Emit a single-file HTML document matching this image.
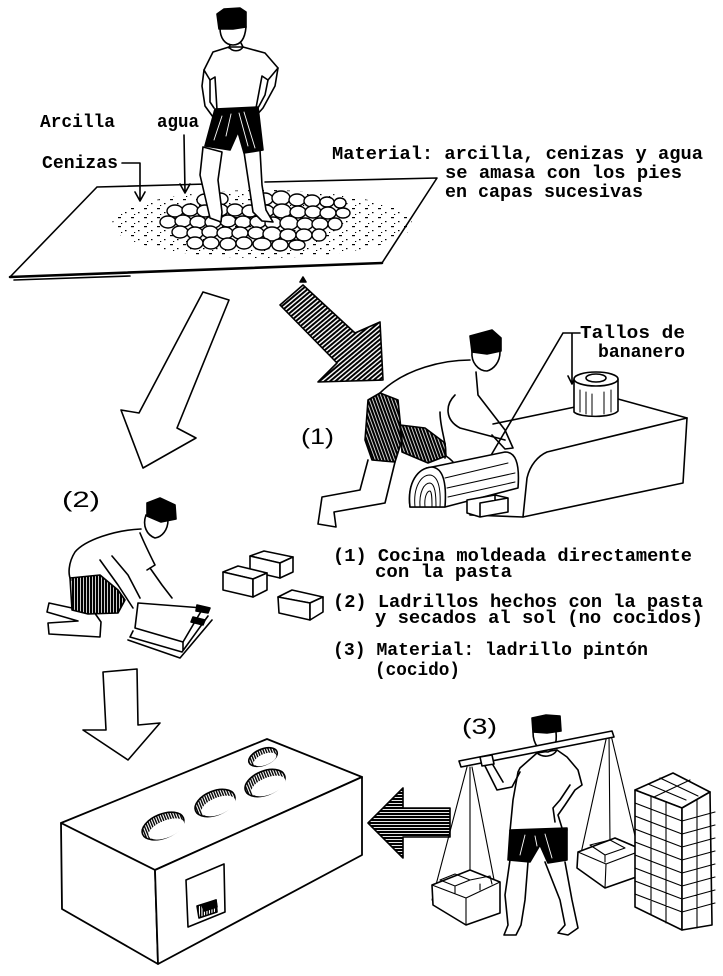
<!DOCTYPE html>
<html><head><meta charset="utf-8"><style>
html,body{margin:0;padding:0;background:#fff}
svg{display:block}
.t{font-family:"Liberation Mono",monospace;font-weight:bold;font-size:18px;fill:#000;stroke:none}
.h{font-family:"Liberation Sans",sans-serif;font-size:22px;fill:#000;stroke:none}
</style></head><body>
<svg width="723" height="976" viewBox="0 0 723 976" xmlns="http://www.w3.org/2000/svg">
<defs>
<pattern id="dots" width="13" height="9" patternUnits="userSpaceOnUse"><rect x="1" y="1" width="3" height="1.2" fill="#000"/><rect x="8" y="5" width="1.5" height="1.2" fill="#000"/><rect x="4" y="7" width="1.2" height="1" fill="#000"/></pattern>
<pattern id="diag" width="3.4" height="3.4" patternUnits="userSpaceOnUse" patternTransform="rotate(-40)"><rect width="3.4" height="2" fill="#000"/></pattern>
<pattern id="diag2" width="3" height="3" patternUnits="userSpaceOnUse" patternTransform="rotate(70)"><rect width="3" height="2.2" fill="#000"/></pattern>
<pattern id="hor" width="4" height="3" patternUnits="userSpaceOnUse"><rect width="4" height="2.1" fill="#000"/></pattern>
<pattern id="vert" width="3" height="4" patternUnits="userSpaceOnUse"><rect width="2.2" height="4" fill="#000"/></pattern>
<pattern id="vh" width="2.5" height="4" patternUnits="userSpaceOnUse"><rect width="1.4" height="4" fill="#000"/></pattern>
</defs>

<g fill="none" stroke="#000" stroke-width="1.6" stroke-linejoin="round" stroke-linecap="round">

<!-- ===== Figure top: kneading ===== -->
<path d="M97,187 L207,184 M265,182 L437,178 L382,263 L10,277 L97,187" fill="none"/>
<path d="M10,277 L382,263" stroke-width="2.6"/>
<path d="M14,280 L130,276" stroke-width="1.6"/>
<ellipse cx="262" cy="224" rx="150" ry="34" fill="url(#dots)" stroke="none"/>
<g fill="#fff" stroke-width="1.4">
<ellipse cx="205" cy="200" rx="8" ry="6"/><ellipse cx="220" cy="199" rx="8" ry="6"/><ellipse cx="265" cy="199" rx="8" ry="6"/><ellipse cx="281" cy="198" rx="9" ry="7"/><ellipse cx="297" cy="200" rx="8" ry="6"/><ellipse cx="312" cy="201" rx="8" ry="6"/><ellipse cx="327" cy="202" rx="7" ry="5"/><ellipse cx="340" cy="203" rx="6" ry="5"/>
<ellipse cx="175" cy="211" rx="8" ry="6"/><ellipse cx="190" cy="210" rx="8" ry="6"/><ellipse cx="205" cy="211" rx="8" ry="6"/><ellipse cx="220" cy="210" rx="8" ry="6"/><ellipse cx="235" cy="210" rx="8" ry="6"/><ellipse cx="250" cy="211" rx="8" ry="6"/><ellipse cx="266" cy="211" rx="8" ry="6"/><ellipse cx="282" cy="211" rx="9" ry="7"/><ellipse cx="298" cy="212" rx="8" ry="6"/><ellipse cx="313" cy="212" rx="8" ry="6"/><ellipse cx="328" cy="213" rx="8" ry="6"/><ellipse cx="343" cy="213" rx="7" ry="5"/>
<ellipse cx="168" cy="222" rx="8" ry="6"/><ellipse cx="183" cy="221" rx="8" ry="6"/><ellipse cx="198" cy="222" rx="8" ry="6"/><ellipse cx="213" cy="222" rx="8" ry="6"/><ellipse cx="228" cy="221" rx="8" ry="6"/><ellipse cx="243" cy="222" rx="8" ry="6"/><ellipse cx="258" cy="222" rx="8" ry="6"/><ellipse cx="273" cy="223" rx="8" ry="6"/><ellipse cx="289" cy="223" rx="9" ry="7"/><ellipse cx="305" cy="224" rx="8" ry="6"/><ellipse cx="320" cy="224" rx="8" ry="6"/><ellipse cx="335" cy="224" rx="7" ry="6"/>
<ellipse cx="180" cy="232" rx="8" ry="6"/><ellipse cx="195" cy="233" rx="8" ry="6"/><ellipse cx="210" cy="232" rx="8" ry="6"/><ellipse cx="225" cy="233" rx="8" ry="6"/><ellipse cx="240" cy="233" rx="8" ry="6"/><ellipse cx="256" cy="233" rx="8" ry="6"/><ellipse cx="272" cy="234" rx="9" ry="7"/><ellipse cx="288" cy="235" rx="8" ry="6"/><ellipse cx="304" cy="235" rx="8" ry="6"/><ellipse cx="319" cy="235" rx="7" ry="6"/>
<ellipse cx="195" cy="243" rx="8" ry="6"/><ellipse cx="211" cy="243" rx="8" ry="6"/><ellipse cx="228" cy="244" rx="8" ry="6"/><ellipse cx="244" cy="243" rx="8" ry="6"/><ellipse cx="262" cy="244" rx="9" ry="6"/><ellipse cx="280" cy="245" rx="8" ry="6"/><ellipse cx="297" cy="245" rx="8" ry="5"/>
</g>
<!-- person 1 -->
<path d="M203,147 L200,175 L207,205 L210,218 L221,222 L222,212 L218,180 L222,152 Z" fill="#fff"/>
<path d="M244,152 L249,185 L253,212 L262,221 L273,222 L266,210 L262,185 L260,150 Z" fill="#fff"/>
<path d="M229,47 L213,52 L204,70 L210,80 L215,77 L217,110 L256,108 L262,76 L268,80 L278,68 L265,53 L243,47 Z" fill="#fff"/>
<path d="M229,47 C232,52 240,52 243,47"/>
<path d="M204,70 L202,86 L205,106 L213,117 M210,80 L210,102 L214,108 M278,68 L275,86 L263,108 L255,117 M268,80 L265,95 L258,108"/>
<path d="M215,109 L258,107 L263,150 L244,153 L238,132 L230,150 L205,146 Z" fill="#000"/>
<path d="M222,116 L214,140 M231,114 L226,136 M239,113 L248,146 M244,112 L255,148" stroke="#fff" stroke-width="0.9"/>
<path d="M220,28 C220,38 225,45 233,45 C241,45 245,38 246,27 M230,45 L229,48 M241,43 L243,47" fill="#fff"/>
<path d="M217,14 L224,9 L240,8 L246,12 L246,27 L233,29 L219,29 Z" fill="#000"/>
<!-- label leaders -->
<path d="M122,163 L140,163 L140,200 M135,192 L140,201 L145,192"/>
<path d="M184,135 L185,192 M180,184 L185,193 L190,184"/>
<path d="M300,282 L303,277 L306,282 Z" fill="#000"/>

<!-- ===== Arrows ===== -->
<path d="M203,292 L229,300 L177,428 L196,438 L143,468 L121,410 L139,413 Z" fill="#fff"/>
<path d="M280,305 L303,285 L355,333 L380,322 L383,380 L318,382 L337,363 Z" fill="url(#diag)"/>

<!-- ===== Figure (1): cooking stove molded ===== -->
<path d="M547,452 L687,418 L683,483 L523,517 L527,478 C530,465 538,456 547,452 Z" fill="#fff"/>
<path d="M493,424 L575,407 M618,399 L687,418 M470,515 L523,517"/>
<path d="M563,333 L580,333 M563,333 L490,457 M572,333 L572,383 M568,376 L572,384 L576,376"/>
<!-- can -->
<path d="M574,379 L574,412 C580,418 612,418 618,411 L618,379" fill="#fff"/>
<ellipse cx="596" cy="379" rx="22" ry="7" fill="#fff"/>
<ellipse cx="596" cy="378" rx="10" ry="4"/>
<path d="M580,390 L580,412 M586,392 L586,414 M592,394 L592,415 M604,392 L604,414 M611,390 L611,412" stroke-width="1"/>
<!-- person (1) -->
<path d="M470,360 C445,360 405,368 380,393"/>
<path d="M476,372 L478,395 L505,430 L513,448 L505,449 L492,435 M455,395 C445,405 445,420 460,428 L505,440 M440,412 C440,430 448,445 445,458"/>
<path d="M368,460 L360,490 L322,497 L318,524 L336,527 L334,512 L385,503 L395,462"/>
<path d="M446,456 C455,462 460,470 458,478"/>
<path d="M380,393 L368,400 L365,440 L372,460 L395,462 L402,440 L398,400 Z" fill="url(#diag2)"/>
<path d="M400,425 L425,428 L445,443 L446,456 L428,463 L402,452 Z" fill="url(#diag2)"/>
<path d="M472,352 C471,362 478,371 487,371 C494,369 500,362 500,352" fill="#fff"/>
<path d="M470,336 L492,330 L501,338 L501,351 L487,354 L472,352 Z" fill="#000"/>
<!-- log -->
<path d="M410,507 C407,482 418,468 432,467 L505,452 C515,452 520,462 518,488 L445,507 Z" fill="#fff"/>
<path d="M410,507 C407,482 418,468 432,467 C442,468 447,480 445,507 Z" fill="#fff"/>
<path d="M415,507 C413,487 421,475 430,475 C438,476 441,488 440,507 M420,507 C419,492 424,483 430,483 C435,484 436,494 436,507 M425,507 C424,497 427,491 430,491 C432,492 432,500 432,507" stroke-width="1"/>
<path d="M445,478 L508,463 M447,488 L515,473 M448,497 L515,482" stroke-width="1"/>
<path d="M467,500 L495,495 L508,498 L508,512 L480,517 L467,513 Z M480,503 L480,517 M480,503 L508,498 M495,495 L495,500" fill="#fff"/>

<!-- ===== Figure (2): brick molding ===== -->
<path d="M141,529 C115,530 85,540 75,552 C68,563 68,575 71,580"/>
<path d="M140,533 C145,545 150,555 155,565 L147,570 M100,560 L118,585 L133,608 M112,556 L128,575 L140,598 M150,568 L162,585 L172,598"/>
<path d="M70,578 L100,575 L118,590 L125,600 L118,613 L88,614 L72,610 Z" fill="url(#vert)"/>
<path d="M72,608 L49,603 L47,612 L78,621 L48,623 L49,634 L100,637 L101,622 L94,612"/>
<path d="M146,515 C142,526 147,535 155,538 C162,537 168,530 168,520" fill="#fff"/>
<path d="M147,503 L160,498 L175,505 L176,519 L161,522 L147,516 Z" fill="#000"/>
<path d="M138,603 L203,608 L183,642 L135,628 Z" fill="#fff"/>
<path d="M133,631 L130,637 L182,652 L208,616 M128,640 L180,658 L212,620 M183,642 L183,650"/>
<path d="M197,605 L210,608 L208,613 L196,611 Z M193,617 L205,620 L203,625 L191,622 Z" fill="#000"/>
<!-- bricks -->
<g fill="#fff">
<path d="M250,556 L264,551 L293,557 L280,563 Z"/><path d="M250,556 L280,563 L280,578 L250,571 Z"/><path d="M280,563 L293,557 L293,572 L280,578 Z"/>
<path d="M223,572 L238,566 L267,573 L253,579 Z"/><path d="M223,572 L253,579 L253,597 L223,590 Z"/><path d="M253,579 L267,573 L267,590 L253,597 Z"/>
<path d="M278,597 L292,590 L323,597 L310,603 Z"/><path d="M278,597 L310,603 L310,620 L279,613 Z"/><path d="M310,603 L323,597 L323,612 L310,620 Z"/>
</g>

<!-- ===== Down arrow ===== -->
<path d="M103,672 L137,669 L138,725 L160,723 L128,760 L83,730 L106,730 Z" fill="#fff"/>

<!-- ===== Final stove ===== -->
<g stroke-width="1.8">
<path d="M61,823 L267,739 L362,777 L155,870 Z" fill="#fff"/>
<path d="M61,823 L155,870 L158,964 L62,909 Z" fill="#fff"/>
<path d="M155,870 L362,777 L362,855 L158,964 Z" fill="#fff"/>
</g>
<g transform="rotate(-22 163 826)"><ellipse cx="163" cy="826" rx="22" ry="12" fill="url(#vh)"/><ellipse cx="165" cy="830" rx="19" ry="8.5" fill="#fff" stroke="none"/></g>
<g transform="rotate(-22 215 803)"><ellipse cx="215" cy="803" rx="21" ry="12" fill="url(#vh)"/><ellipse cx="217" cy="807" rx="18" ry="8.5" fill="#fff" stroke="none"/></g>
<g transform="rotate(-22 265 783)"><ellipse cx="265" cy="783" rx="21" ry="12" fill="url(#vh)"/><ellipse cx="267" cy="787" rx="18" ry="8.5" fill="#fff" stroke="none"/></g>
<g transform="rotate(-22 263 757)"><ellipse cx="263" cy="757" rx="15" ry="8" fill="url(#vh)"/><ellipse cx="264" cy="760" rx="12" ry="5.5" fill="#fff" stroke="none"/></g>
<path d="M186,880 L224,864 L225,912 L188,927 Z" fill="#fff"/>
<path d="M197,906 L216,900 L217,912 L199,918 Z" fill="url(#vh)"/>
<path d="M202,905 L216,900 L217,907 L204,911 Z" fill="#000"/>

<!-- ===== Left arrow hatched ===== -->
<path d="M368,823 L403,788 L403,808 L450,808 L450,837 L403,837 L403,858 Z" fill="url(#hor)"/>

<!-- ===== Figure (3): carrier ===== -->
<path d="M467,767 L432,900 M470,767 L470,875 M472,767 L498,900" stroke-width="1.1"/>
<path d="M607,735 L578,867 M609,735 L610,842 M611,735 L640,857" stroke-width="1.1"/>
<path d="M432,885 L470,870 L500,882 L500,913 L466,925 L433,905 Z" fill="#fff"/>
<path d="M432,885 L466,898 L500,882 M466,898 L466,925 M440,880 L455,874 L470,880 L455,886 Z M455,886 L455,893 M470,880 L490,876 L492,884 M480,884 L480,890" stroke-width="1.1"/>
<path d="M578,852 L615,838 L643,850 L642,875 L605,888 L577,868 Z" fill="#fff"/>
<path d="M578,852 L606,864 L643,850 M606,864 L605,888 M590,845 L610,840 L625,848 L605,855 Z M605,855 L605,862 M615,838 L632,845" stroke-width="1.1"/>
<!-- body -->
<path d="M520,768 L537,753 L557,750 L567,757 L578,770 L582,785 L575,790 L565,805 L558,815 L562,828 L567,830 L510,831 L513,800 L518,772 Z" fill="#fff"/>
<path d="M570,785 L560,800 L553,808 L555,822"/>
<path d="M483,762 L497,790 L512,787 L520,772 M493,765 L503,782"/>
<path d="M510,860 L505,895 L508,925 L504,935 L516,935 L521,925 L525,900 L528,862 M545,862 L560,900 L565,925 L558,933 L568,935 L578,928 L572,900 L565,862"/>
<path d="M510,830 L567,828 L567,860 L548,863 L540,845 L530,862 L508,860 Z" fill="#000"/>
<path d="M525,835 L520,855 M545,834 L552,858 M535,836 L537,846" stroke="#fff" stroke-width="0.9"/>
<path d="M533,732 C533,745 540,752 548,752 C555,750 557,742 556,732" fill="#fff"/>
<path d="M537,753 C543,758 553,757 557,750"/>
<path d="M459,761 L612,731 L614,737 L461,767 Z" fill="#fff"/>
<path d="M480,757 L492,755 L494,764 L482,766 Z" fill="#fff"/>
<path d="M532,718 L546,715 L560,716 L561,731 L547,733 L533,732 Z" fill="#000"/>
<!-- brick stack -->
<path d="M635,790 L673,773 L710,792 L682,808 Z" fill="#fff"/>
<path d="M635,790 L682,808 L682,930 L635,907 Z" fill="#fff"/>
<path d="M682,808 L710,792 L712,925 L682,930 Z" fill="#fff"/>
<path d="M635,803 L682,821 M635,816 L682,834 M635,829 L682,847 M635,842 L682,860 M635,855 L682,873 M635,868 L682,886 M635,881 L682,899 M635,894 L682,912 M651,796 L651,915 M666,802 L666,923 M682,821 L715,812 M682,834 L715,825 M682,847 L715,838 M682,860 L715,851 M682,873 L715,864 M682,886 L715,877 M682,899 L715,890 M682,912 L715,903 M697,800 L697,928 M648,784 L686,800 M660,778 L698,796 M654,797 L690,780" stroke-width="1.1"/>
</g>

<!-- ===== Text ===== -->
<text class="t" x="40" y="127" textLength="75" lengthAdjust="spacingAndGlyphs">Arcilla</text>
<text class="t" x="157" y="127" textLength="42" lengthAdjust="spacingAndGlyphs">agua</text>
<text class="t" x="42" y="168" textLength="76" lengthAdjust="spacingAndGlyphs">Cenizas</text>
<text class="t" x="332" y="159" textLength="371" lengthAdjust="spacingAndGlyphs">Material: arcilla, cenizas y agua</text>
<text class="t" x="445" y="178" textLength="237" lengthAdjust="spacingAndGlyphs">se amasa con los pies</text>
<text class="t" x="445" y="197" textLength="198" lengthAdjust="spacingAndGlyphs">en capas sucesivas</text>
<text class="t" x="580" y="338" textLength="105" lengthAdjust="spacingAndGlyphs">Tallos de</text>
<text class="t" x="598" y="357" textLength="87" lengthAdjust="spacingAndGlyphs">bananero</text>
<text class="t" x="333" y="561" textLength="359" lengthAdjust="spacingAndGlyphs">(1) Cocina moldeada directamente</text>
<text class="t" x="375" y="577" textLength="137" lengthAdjust="spacingAndGlyphs">con la pasta</text>
<text class="t" x="333" y="607" textLength="370" lengthAdjust="spacingAndGlyphs">(2) Ladrillos hechos con la pasta</text>
<text class="t" x="375" y="623" textLength="328" lengthAdjust="spacingAndGlyphs">y secados al sol (no cocidos)</text>
<text class="t" x="333" y="655" textLength="315" lengthAdjust="spacingAndGlyphs">(3) Material: ladrillo pintón</text>
<text class="t" x="375" y="675" textLength="85" lengthAdjust="spacingAndGlyphs">(cocido)</text>
<text class="h" x="301" y="444" textLength="33" lengthAdjust="spacingAndGlyphs">(1)</text>
<text class="h" x="62" y="507" textLength="38" lengthAdjust="spacingAndGlyphs">(2)</text>
<text class="h" x="462" y="734" font-size="20" textLength="35" lengthAdjust="spacingAndGlyphs">(3)</text>
</svg>
</body></html>
